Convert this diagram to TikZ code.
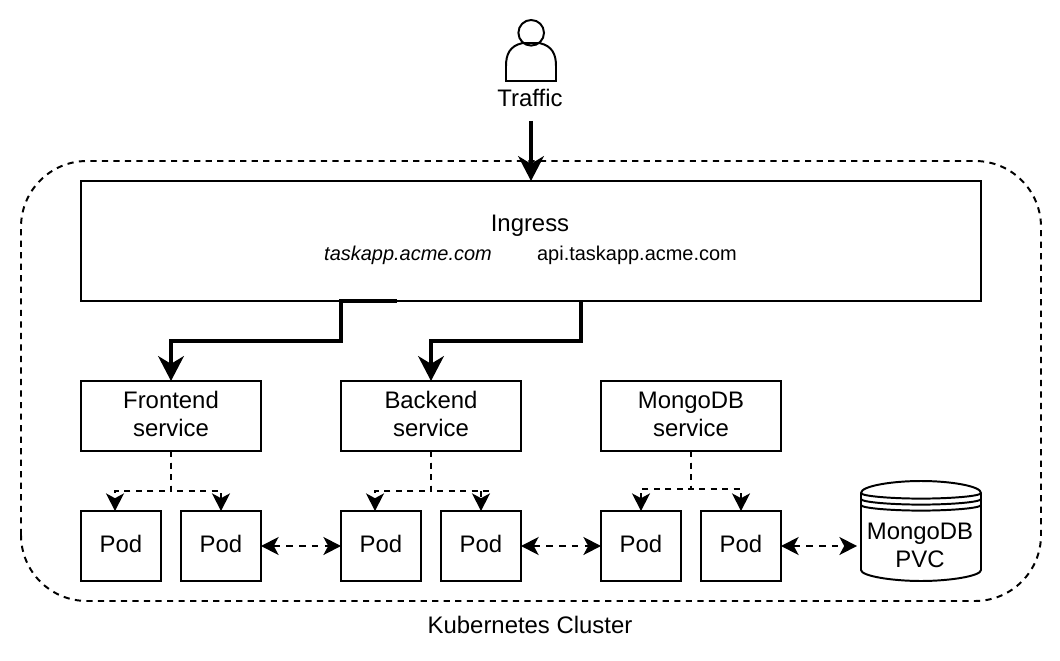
\documentclass[tikz,border=0pt]{standalone}
\usepackage{fontspec}
\setmainfont{Liberation Sans}
\usepackage{xcolor}
\usetikzlibrary{arrows.meta,positioning}
\tikzset{
  blk/.style    ={draw,line width=1.4pt,align=center,inner sep=0pt,outer sep=0pt,text depth=2.84pt,font=\fontsize{17}{19.9}\selectfont},
  svc/.style    ={blk,minimum width=4.5cm,minimum height=1.75cm},
  pod/.style    ={blk,minimum width=2cm,minimum height=1.75cm},
  txt/.style    ={align=center,inner sep=0pt,font=\fontsize{17}{19.9}\selectfont},
  host/.style   ={inner sep=0pt,font=\fontsize{14.2}{16}\selectfont},
  flow/.style   ={-{Stealth[length=6.2mm,width=6.4mm,inset=1.9mm]},line width=2.8pt},
  ctrl/.style   ={-{Stealth[length=4.4mm,width=4.5mm,inset=1.2mm]},line width=1.4pt,dash pattern=on 4.4pt off 3.8pt},
  link/.style   ={{Stealth[length=4.4mm,width=4.5mm,inset=1.2mm]}-{Stealth[length=4.4mm,width=4.5mm,inset=1.2mm]},line width=1.4pt,dash pattern=on 4.6pt off 4.6pt},
  wire/.style   ={line width=1.4pt,dash pattern=on 4.4pt off 3.8pt},
}
\begin{document}
\begin{tikzpicture}
  \useasboundingbox (0,0) rectangle (26.5,16.5);
  % cluster outline
  \draw[wire,rounded corners=1.65cm] (0.525,1.475) rectangle (26.025,12.475);
  \node[txt] (cluster) at (13.25,0.875) {Kubernetes Cluster};

  % user
  \draw[line width=1.4pt] (13.28,15.68) circle (0.32);
  \draw[line width=1.4pt] (12.65,14.475) -- (12.65,14.85) .. controls (12.65,15.15) and (12.75,15.35) .. (13.05,15.42)
    -- (13.5,15.42) .. controls (13.8,15.35) and (13.9,15.15) .. (13.9,14.85) -- (13.9,14.475) -- cycle;
  \node[txt] (traffic) at (13.25,14.06) {Traffic};
  \coordinate (trafficout) at (13.275,13.475);

  \node[blk,minimum width=22.5cm,minimum height=3cm] (ingress) at (13.275,10.475) {};
  \node[txt] (ingresstxt) at (13.25,10.85) {Ingress};
  \node[host] (fronthost) at (10.2,10.125) {\textit{taskapp.acme.com}};
  \node[host] (apihost) at (15.925,10.125) {api.taskapp.acme.com};

  \node[svc] (fesvc) at (4.275,6.1) {Frontend\\service};
  \node[svc] (besvc) at (10.775,6.1) {Backend\\service};
  \node[svc] (dbsvc) at (17.275,6.1) {MongoDB\\service};

  \node[pod] (fe1) at (3.025,2.85) {Pod};
  \node[pod] (fe2) at (5.525,2.85) {Pod};
  \node[pod] (be1) at (9.525,2.85) {Pod};
  \node[pod] (be2) at (12.025,2.85) {Pod};
  \node[pod] (db1) at (16.025,2.85) {Pod};
  \node[pod] (db2) at (18.525,2.85) {Pod};

  % volume
  \draw[line width=1.4pt,fill=white] (21.525,4.175) -- (21.525,2.25)
    .. controls (21.525,2.1) and (22.3,1.975) .. (23.025,1.975)
    .. controls (23.75,1.975) and (24.525,2.1) .. (24.525,2.25) -- (24.525,4.175)
    .. controls (24.525,4.35) and (23.75,4.475) .. (23.025,4.475)
    .. controls (22.3,4.475) and (21.525,4.35) .. (21.525,4.175) -- cycle;
  \foreach \yy in {4.175,4.025,3.875}
    \draw[line width=1.4pt] (21.525,\yy) .. controls (21.525,\yy-0.08) and (22.3,\yy-0.14) .. (23.025,\yy-0.14)
      .. controls (23.75,\yy-0.14) and (24.525,\yy-0.08) .. (24.525,\yy);
  \node[txt] (pvc) at (23,2.875) {MongoDB\\PVC};
  \coordinate (pvcin) at (21.425,2.85);

  \draw[flow] (trafficout) -- (ingress.north);

  \coordinate (festart) at (9.925,8.975);
  \coordinate (bestart) at (14.525,8.975);
  \draw[flow] (festart) -- (8.525,8.975) -- (8.525,7.975) -| (fesvc.north);
  \draw[flow] (bestart) -- (14.525,7.975) -| (besvc.north);

  % dashed fan-out
  \coordinate (fe1in) at (2.875,3.725);
  \coordinate (be1in) at (9.375,3.725);
  \draw[ctrl] (fesvc.south) |- (2.875,4.225) -- (fe1in);
  \draw[ctrl] (fesvc.south) |- (5.525,4.225) -- (fe2.north);
  \draw[ctrl] (besvc.south) |- (9.375,4.225) -- (be1in);
  \draw[wire] (besvc.south) |- (12.275,4.225);
  \draw[ctrl] (12.025,4.225) -- (be2.north);
  \draw[ctrl] (dbsvc.south) |- (16.025,4.275) -- (db1.north);
  \draw[ctrl] (dbsvc.south) |- (18.525,4.275) -- (db2.north);

  \draw[link] (fe2.east) -- (be1.west);
  \draw[link] (be2.east) -- (db1.west);
  \draw[link] (db2.east) -- (pvcin);
\end{tikzpicture}
\end{document}
